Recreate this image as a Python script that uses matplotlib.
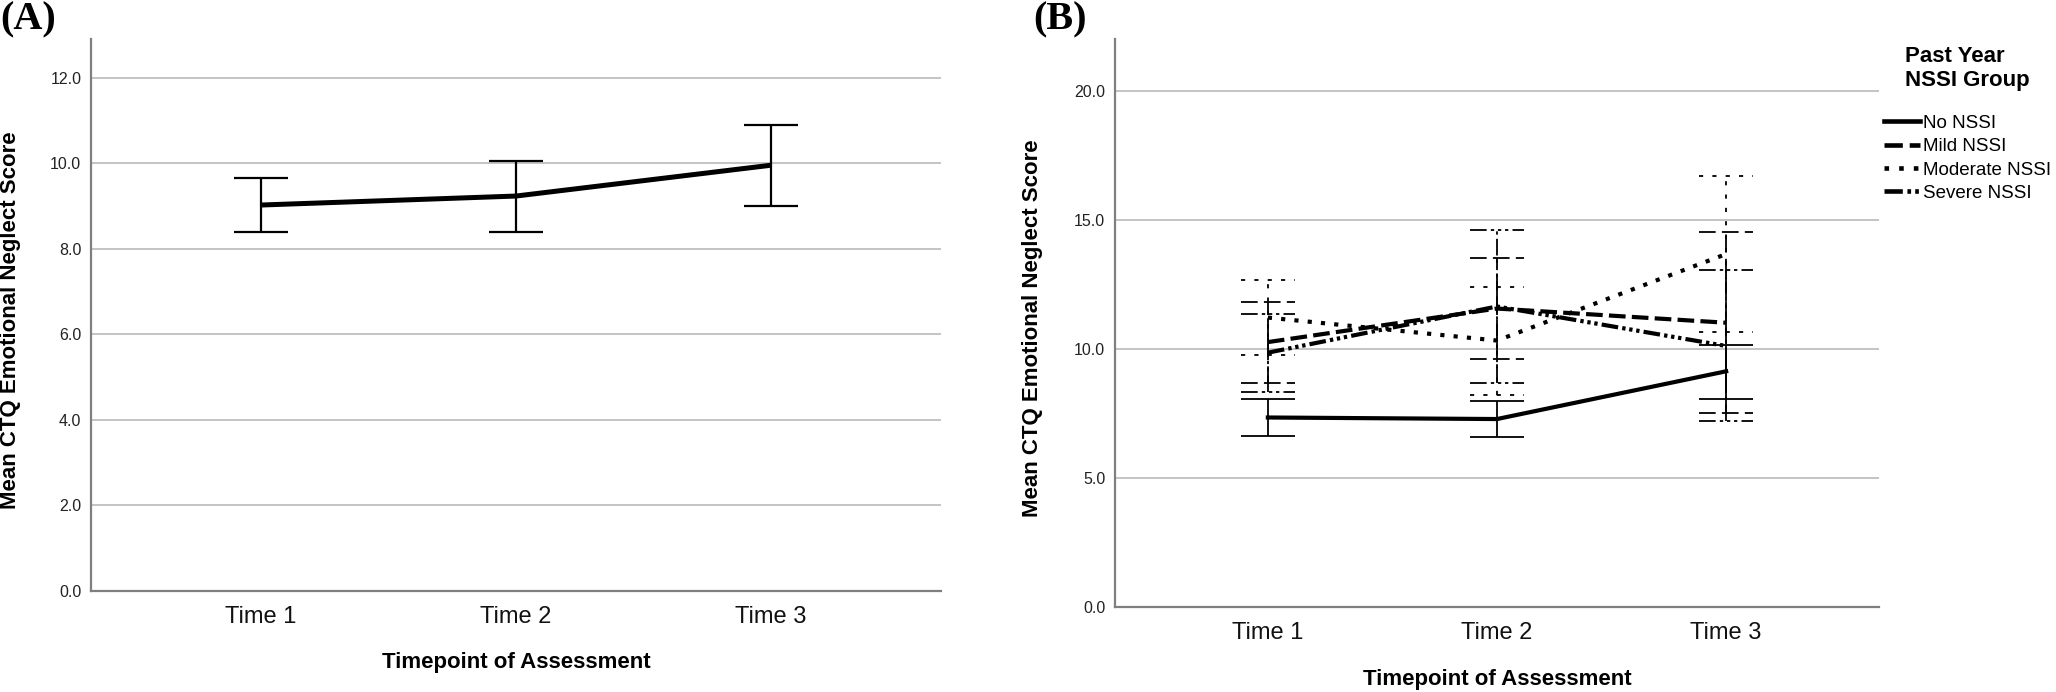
import matplotlib
matplotlib.use("Agg")
import matplotlib.pyplot as plt
from matplotlib import font_manager as fm
import numpy as np

# ---------------- data ----------------
time_labels = ["Time 1", "Time 2", "Time 3"]

# Panel A: whole sample
overall_mean = [9.02, 9.23, 9.95]
overall_lower = [8.38, 8.39, 8.99]
overall_upper = [9.64, 10.05, 10.90]

# Panel B: by past-year NSSI group
group_names = ["No NSSI", "Mild NSSI", "Moderate NSSI", "Severe NSSI"]
no_mean = [7.34, 7.28, 9.13]
no_lower = [6.61, 6.58, 8.07]
no_upper = [8.06, 7.99, 10.13]
mild_mean = [10.26, 11.56, 11.01]
mild_lower = [8.68, 9.60, 7.51]
mild_upper = [11.83, 13.52, 14.51]
mod_mean = [11.21, 10.32, 13.67]
mod_lower = [9.75, 8.23, 10.66]
mod_upper = [12.67, 12.41, 16.68]
sev_mean = [9.85, 11.64, 10.11]
sev_lower = [8.33, 8.68, 7.19]
sev_upper = [11.36, 14.60, 13.04]

y_label = "Mean CTQ Emotional Neglect Score"
x_label = "Timepoint of Assessment"
legend_title = "Past Year\nNSSI Group"

# ---------------- style ----------------
names = {f.name for f in fm.fontManager.ttflist}
sans = "Liberation Sans" if "Liberation Sans" in names else "DejaVu Sans"
narrow = "Liberation Sans Narrow" if "Liberation Sans Narrow" in names else sans
serif = "Liberation Serif" if "Liberation Serif" in names else "DejaVu Serif"

GRID = "#bfbfbf"
SPINE = "#7f7f7f"

fig = plt.figure(figsize=(20.56, 6.92), dpi=100, facecolor="white")
axA = fig.add_axes([91 / 2056, 101 / 692, 850 / 2056, 552 / 692])
axB = fig.add_axes([1115 / 2056, 85 / 692, 764 / 2056, 568 / 692])

x = np.arange(1, len(time_labels) + 1)


def style_axes(ax, ymax, yticks):
    ax.set_xlim(0.333, 3.667)
    ax.set_ylim(0, ymax)
    ax.set_yticks(yticks)
    ax.set_yticklabels([f"{v:.1f}" for v in yticks], fontfamily=narrow,
                       fontsize=11.5, color="#222222")
    ax.set_xticks(x)
    ax.set_xticklabels(time_labels, fontfamily=narrow, fontsize=17, color="#111111")
    ax.tick_params(axis="both", length=0)
    ax.tick_params(axis="y", pad=7)
    ax.tick_params(axis="x", pad=11)
    for s in ("top", "right"):
        ax.spines[s].set_visible(False)
    for s in ("left", "bottom"):
        ax.spines[s].set_color(SPINE)
        ax.spines[s].set_linewidth(1.6)
    ax.yaxis.grid(True, color=GRID, linewidth=1.3)
    ax.set_axisbelow(True)
    ax.set_xlabel(x_label, fontfamily=sans, fontweight="bold", fontsize=16)


# ---------------- panel A ----------------
style_axes(axA, 12.9, np.arange(0, 13, 2.0))
mA = np.array(overall_mean)
axA.errorbar(x, mA, yerr=[mA - np.array(overall_lower), np.array(overall_upper) - mA],
             fmt="none", ecolor="black", elinewidth=1.6, capsize=19.5, capthick=1.6)
axA.plot(x, mA, color="black", linewidth=3.6, solid_capstyle="butt")
axA.set_ylabel(y_label, fontfamily=sans, fontweight="bold", fontsize=16)
axA.yaxis.set_label_coords(-0.082, 0.49)
axA.xaxis.set_label_coords(0.5, -0.110)

# ---------------- panel B ----------------
style_axes(axB, 22, np.arange(0, 21, 5.0))
axB.set_ylabel(y_label, fontfamily=sans, fontweight="bold", fontsize=16)
axB.yaxis.set_label_coords(-0.094, 0.49)
axB.xaxis.set_label_coords(0.5, -0.109)

series = [
    (no_mean, no_lower, no_upper, None),
    (mild_mean, mild_lower, mild_upper, (4.0, 1.5)),
    (mod_mean, mod_lower, mod_upper, (1.0, 2.2)),
    (sev_mean, sev_lower, sev_upper, (4.0, 1.0, 0.8, 0.9, 0.8, 0.9, 0.8, 1.0)),
]
LW_MEAN = 3.0
LW_ERR = 1.3
cap_half = 0.118
handles = []
for (m, lo, hi, dash), name in zip(series, group_names):
    m = np.array(m); lo = np.array(lo); hi = np.array(hi)
    if dash is None:
        ls_mean = "-"
        ls_err = "-"
    else:
        ls_mean = (0, dash)
        ls_err = (0, tuple(d * LW_MEAN / LW_ERR for d in dash))
    eb = axB.errorbar(x, m, yerr=[m - lo, hi - m], fmt="none", ecolor="black",
                      elinewidth=LW_ERR, capsize=0)
    eb[2][0].set_linestyle(ls_err)
    axB.hlines(lo, x - cap_half, x + cap_half, colors="black", linewidth=LW_ERR,
               linestyles=[ls_err])
    axB.hlines(hi, x - cap_half, x + cap_half, colors="black", linewidth=LW_ERR,
               linestyles=[ls_err])
    ln, = axB.plot(x, m, color="black", linewidth=LW_MEAN, linestyle=ls_mean,
                   label=name, dash_capstyle="butt")
    handles.append(ln)

leg = axB.legend(handles=handles, loc="upper left",
                 bbox_to_anchor=(1884 / 2056, 1 - 46 / 692),
                 bbox_transform=fig.transFigure, frameon=False,
                 title=legend_title,
                 title_fontproperties={"family": sans, "weight": "bold", "size": 16},
                 prop={"family": narrow, "size": 13.5},
                 handlelength=1.9, handletextpad=0.2, labelspacing=0.33,
                 borderpad=0, borderaxespad=0)
leg._legend_box.sep = 17
for h in leg.legend_handles:
    h.set_linewidth(3.3)

# panel letters
fig.text(0.0, 0.998, "(A)", fontfamily=serif, fontweight="bold", fontsize=29,
         ha="left", va="top")
fig.text(1033 / 2056, 0.998, "(B)", fontfamily=serif, fontweight="bold", fontsize=29,
         ha="left", va="top")

fig.savefig("out.png", dpi=100, facecolor="white")
